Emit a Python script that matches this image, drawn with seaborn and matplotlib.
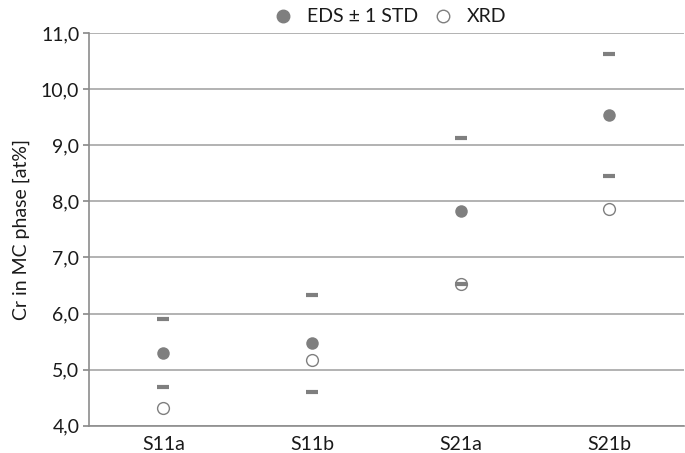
import matplotlib
matplotlib.use("Agg")
import matplotlib.pyplot as plt
from matplotlib.ticker import FuncFormatter, MultipleLocator
from matplotlib.lines import Line2D
import seaborn as sns
import pandas as pd

samples = ["S11a", "S11b", "S21a", "S21b"]
eds_mean = [5.30, 5.47, 7.83, 9.54]
eds_std = [0.60, 0.87, 1.30, 1.08]
xrd = [4.32, 5.18, 6.53, 7.87]

sns.set_theme(style="white")
plt.rcParams["font.family"] = ["Lato", "DejaVu Sans"]

df = pd.DataFrame({"sample": samples, "eds": eds_mean, "std": eds_std, "xrd": xrd})
df["upper"] = df["eds"] + df["std"]
df["lower"] = df["eds"] - df["std"]

grey = "#7f7f7f"
fig = plt.figure(figsize=(6.85, 4.53), dpi=100)
ax = fig.add_axes([0.130, 0.060, 0.868, 0.867])

sns.stripplot(data=df, x="sample", y="eds", jitter=False, marker="o", s=9,
              color=grey, linewidth=0, ax=ax, zorder=4)
sns.stripplot(data=df, x="sample", y="xrd", jitter=False, marker="o", s=8.5,
              color="white", edgecolor=grey, linewidth=1, ax=ax, zorder=4)
for col in ["upper", "lower"]:
    sns.stripplot(data=df, x="sample", y=col, jitter=False, marker="_", s=8,
                  linewidth=3, color=grey, edgecolor=grey, ax=ax, zorder=5)

ax.set_xlim(-0.5, 3.5)
ax.set_ylim(4.0, 11.0)
ax.yaxis.set_major_locator(MultipleLocator(1.0))
ax.yaxis.set_major_formatter(FuncFormatter(lambda v, p: f"{v:.1f}".replace(".", ",")))
ax.grid(axis="y", color="#a6a6a6", linewidth=1.2)
ax.set_axisbelow(True)
ax.set_xlabel("")
ax.set_ylabel("Cr in MC phase [at%]", fontsize=14, color="#1a1a1a", labelpad=8)
for s in ["top", "right"]:
    ax.spines[s].set_visible(False)
for s in ["left", "bottom"]:
    ax.spines[s].set_color("#8c8c8c")
    ax.spines[s].set_linewidth(1.2)
ax.tick_params(axis="y", length=4, color="#8c8c8c", labelsize=14, labelcolor="#1a1a1a", pad=3, direction="out", left=True)
ax.tick_params(axis="x", length=0, labelsize=14, labelcolor="#1a1a1a", pad=7)

handles = [
    Line2D([], [], marker="o", linestyle="", markersize=9, markerfacecolor=grey, markeredgecolor=grey),
    Line2D([], [], marker="o", linestyle="", markersize=9, markerfacecolor="white", markeredgecolor=grey),
]
fig.legend(handles, ["EDS ± 1 STD", "XRD"], loc="upper center", bbox_to_anchor=(0.562, 1.02),
           ncol=2, frameon=False, fontsize=14, handletextpad=0.2, columnspacing=0.3,
           labelcolor="#1a1a1a")

fig.savefig("out.png", dpi=100)
